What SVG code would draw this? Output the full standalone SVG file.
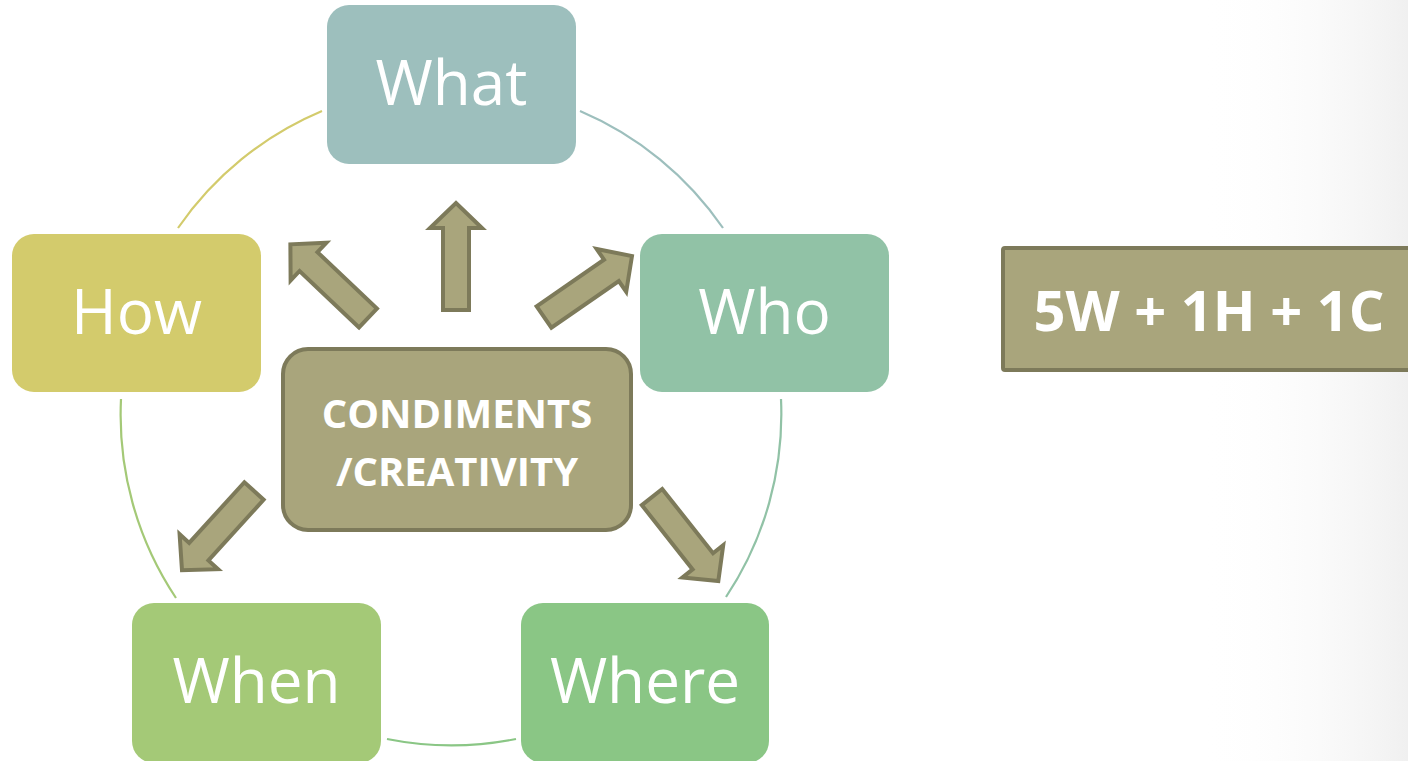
<svg xmlns="http://www.w3.org/2000/svg" width="1408" height="761" viewBox="0 0 1408 761">
  <defs>
    <linearGradient id="bgfade" x1="0" y1="0" x2="1" y2="0">
      <stop offset="0" stop-color="#ffffff" stop-opacity="0"/>
      <stop offset="1" stop-color="#f0f0f0" stop-opacity="1"/>
    </linearGradient>
    <polygon id="arrow" points="-13,0 -13,-82 -26,-82 0,-107 26,-82 13,-82 13,0"/>
  </defs>
  <style>
    .node-text { font-family: "Open Sans", "Liberation Sans", sans-serif; font-size: 62px; fill: #ffffff; text-anchor: middle; }
    .bold-text { font-family: "Open Sans", "Liberation Sans", sans-serif; font-weight: bold; fill: #ffffff; text-anchor: middle; }
    .arc { fill: none; stroke-width: 2.2; }
    .arr { fill: #A9A57C; stroke: #7D7A5A; stroke-width: 4; stroke-linejoin: miter; }
  </style>
  <rect x="0" y="0" width="1408" height="761" fill="#ffffff"/>
  <rect x="1200" y="0" width="208" height="761" fill="url(#bgfade)"/>

  <g id="connectors">
    <path class="arc" stroke="#D3CB6C" d="M178,228 A330,330 0 0 1 322,111"/>
    <path class="arc" stroke="#9DBFBD" d="M580,111 A330,330 0 0 1 723,228"/>
    <path class="arc" stroke="#91C2A6" d="M781,399 A330,330 0 0 1 726,597"/>
    <path class="arc" stroke="#8AC685" d="M516,739 A330,330 0 0 1 387,739"/>
    <path class="arc" stroke="#A4C977" d="M176,598 A330,330 0 0 1 121,399"/>
  </g>

  <g id="arrows">
    <use href="#arrow" class="arr" transform="translate(456,310)"/>
    <use href="#arrow" class="arr" transform="translate(368,318) rotate(-46.5)"/>
    <use href="#arrow" class="arr" transform="translate(544,317) rotate(55.3)"/>
    <use href="#arrow" class="arr" transform="translate(254,491) rotate(-137.7)"/>
    <use href="#arrow" class="arr" transform="translate(652,497) rotate(141.7)"/>
  </g>

  <g id="node-what">
    <rect x="327" y="5" width="249" height="159" rx="22" fill="#9DBFBD"/>
    <text class="node-text" x="451.5" y="105">What</text>
  </g>
  <g id="node-who">
    <rect x="640" y="234" width="249" height="158" rx="22" fill="#91C2A6"/>
    <text class="node-text" x="764.5" y="334">Who</text>
  </g>
  <g id="node-where">
    <rect x="521" y="603" width="248" height="160" rx="22" fill="#8AC685"/>
    <text class="node-text" x="645" y="703">Where</text>
  </g>
  <g id="node-when">
    <rect x="132" y="603" width="249" height="160" rx="22" fill="#A4C977"/>
    <text class="node-text" x="256.5" y="703">When</text>
  </g>
  <g id="node-how">
    <rect x="12" y="234" width="249" height="158" rx="22" fill="#D3CB6C"/>
    <text class="node-text" x="136.5" y="334">How</text>
  </g>

  <g id="node-center">
    <rect x="283" y="349" width="348" height="181" rx="25" fill="#A9A57C" stroke="#7D7A5A" stroke-width="4"/>
    <text class="bold-text" x="457" y="428" font-size="40">CONDIMENTS</text>
    <text class="bold-text" x="457" y="486" font-size="40">/CREATIVITY</text>
  </g>

  <g id="node-formula">
    <rect x="1003" y="248" width="410" height="122" rx="2" fill="#A9A57C" stroke="#7D7A5A" stroke-width="4"/>
    <text class="bold-text" x="1209" y="331" font-size="56">5W + 1H + 1C</text>
  </g>
</svg>
